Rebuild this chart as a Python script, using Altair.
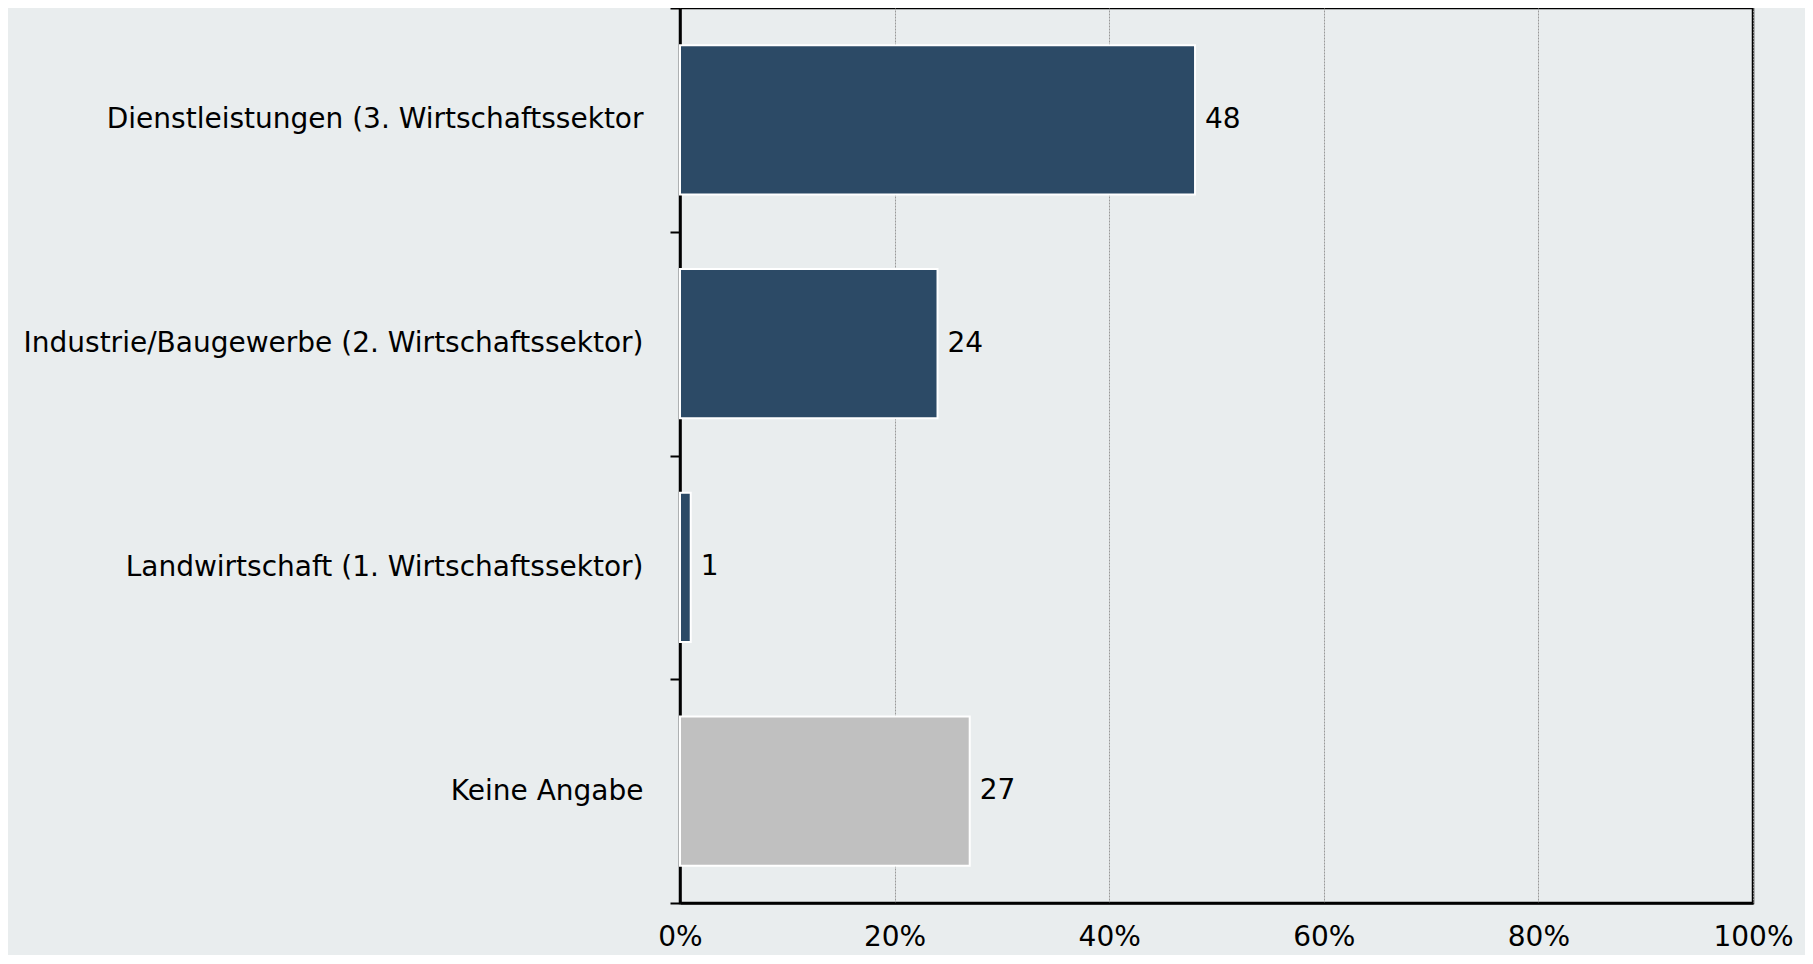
import altair as alt
import pandas as pd

categories = [
    "Dienstleistungen (3. Wirtschaftssektor",
    "Industrie/Baugewerbe (2. Wirtschaftssektor)",
    "Landwirtschaft (1. Wirtschaftssektor)",
    "Keine Angabe",
]
values = [48, 24, 1, 27]
colors = ["#2C4A66", "#2C4A66", "#2C4A66", "#C0C0C0"]

df = pd.DataFrame({"cat": categories, "val": values, "col": colors})

FONT = "DejaVu Sans"
FS = 28

y = alt.Y(
    "cat:N",
    sort=categories,
    title=None,
    scale=alt.Scale(paddingInner=0, paddingOuter=0),
    axis=alt.Axis(
        tickBand="extent",
        tickSize=10,
        tickWidth=2,
        tickColor="black",
        domainColor="black",
        domainWidth=2.5,
        labelPadding=27,
        labelFont=FONT,
        labelFontSize=FS,
        labelColor="black",
        labelLimit=0,
        grid=False,
    ),
)
x = alt.X(
    "val:Q",
    title=None,
    scale=alt.Scale(domain=[0, 100], nice=False),
    axis=alt.Axis(
        values=[0, 20, 40, 60, 80, 100],
        labelExpr="datum.value + '%'",
        ticks=False,
        domainColor="black",
        domainWidth=2.5,
        labelPadding=20,
        labelFont=FONT,
        labelFontSize=FS,
        labelColor="black",
        labelFlush=False,
        grid=True,
        gridColor="#999999",
        gridDash=[2, 1],
        gridWidth=1,
    ),
)

bars = alt.Chart(df).mark_bar(
    stroke="white", strokeWidth=2, height={"band": 0.667}
).encode(y=y, x=x, color=alt.Color("col:N", scale=None))
texts = alt.Chart(df).mark_text(
    align="left", baseline="middle", dx=10, font=FONT, fontSize=FS, color="black"
).encode(y=alt.Y("cat:N", sort=categories), x="val:Q", text="val:Q")

chart = (
    alt.layer(bars, texts)
    .properties(
        width=1073,
        height=895,
        background="#E9EDEE",
        autosize=alt.AutoSizeParams(type="none"),
        padding={"left": 672, "top": 0, "right": 52, "bottom": 52},
    )
    .configure_view(stroke="black", strokeWidth=2.5, fill="#E9EDEE")
)

chart.save("out.html", embed_options={"renderer": "svg", "actions": False})
